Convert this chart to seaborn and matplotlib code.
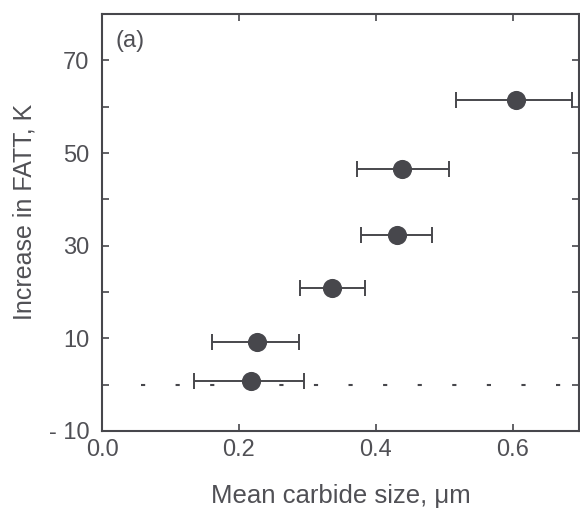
import matplotlib
matplotlib.use("Agg")
import matplotlib.pyplot as plt
from matplotlib.ticker import FixedLocator
import seaborn as sns
import pandas as pd

# Mean carbide size (um) with its spread, and the resulting FATT shift (K)
carbide_size = [0.605, 0.438, 0.431, 0.336, 0.226, 0.217]
size_low = [0.517, 0.372, 0.378, 0.289, 0.161, 0.134]
size_high = [0.687, 0.507, 0.482, 0.385, 0.288, 0.295]
fatt_increase = [61.4, 46.6, 32.2, 20.9, 9.2, 0.8]

baseline_y = 0.0
baseline_x = [0.057, 0.697]

x_ticks = [0.0, 0.2, 0.4, 0.6]
x_ticklabels = ["0.0", "0.2", "0.4", "0.6"]
y_ticks = [-10, 10, 30, 50, 70]
y_ticklabels = ["- 10", "10", "30", "50", "70"]
y_minor = [0, 20, 40, 60]

df = pd.DataFrame({"size": carbide_size, "fatt": fatt_increase,
                   "lo": size_low, "hi": size_high})

sns.set_theme(style="ticks")
plt.rcParams["font.family"] = ["Liberation Sans", "DejaVu Sans"]
plt.rcParams["axes.unicode_minus"] = False

ink = "#47474c"
text_col = "#505055"

fig = plt.figure(figsize=(5.8, 5.08), dpi=100)
ax = fig.add_axes([0.1759, 0.1516, 0.8224, 0.8208])

# dotted zero baseline
(base,) = ax.plot(baseline_x, [baseline_y, baseline_y], color=ink, lw=1.5,
                  zorder=1)
base.set_dashes((2.0, 14.6))

# horizontal error bars for the size spread
ax.errorbar(df["size"], df["fatt"],
            xerr=[df["size"] - df["lo"], df["hi"] - df["size"]],
            fmt="none", ecolor=ink, elinewidth=1.4, capsize=5.5,
            capthick=1.4, zorder=2)

sns.scatterplot(data=df, x="size", y="fatt", ax=ax, s=190, color=ink,
                edgecolor=ink, linewidth=0, zorder=3, legend=False)

ax.set_xlim(0, 0.697)
ax.set_ylim(-10, 80)

ax.set_xticks(x_ticks)
ax.set_xticklabels(x_ticklabels)
ax.set_yticks(y_ticks)
ax.set_yticklabels(y_ticklabels)
ax.yaxis.set_minor_locator(FixedLocator(y_minor))

ax.tick_params(axis="both", which="both", direction="in", length=5,
               width=1.2, color=ink, top=True, right=True,
               labelsize=17, labelcolor=text_col, pad=9)
ax.tick_params(axis="x", which="major", pad=6)

for sp in ax.spines.values():
    sp.set_color(ink)
    sp.set_linewidth(1.5)

ax.set_xlabel("Mean carbide size, μm", fontsize=18.5, color=text_col,
              labelpad=16)
ax.set_ylabel("Increase in FATT, K", fontsize=18, color=text_col,
              labelpad=9)
ax.yaxis.label.set_y(0.525)

ax.text(0.028, 0.962, "(a)", transform=ax.transAxes, fontsize=17,
        color=text_col, ha="left", va="top")

fig.savefig("out.png", dpi=100)
